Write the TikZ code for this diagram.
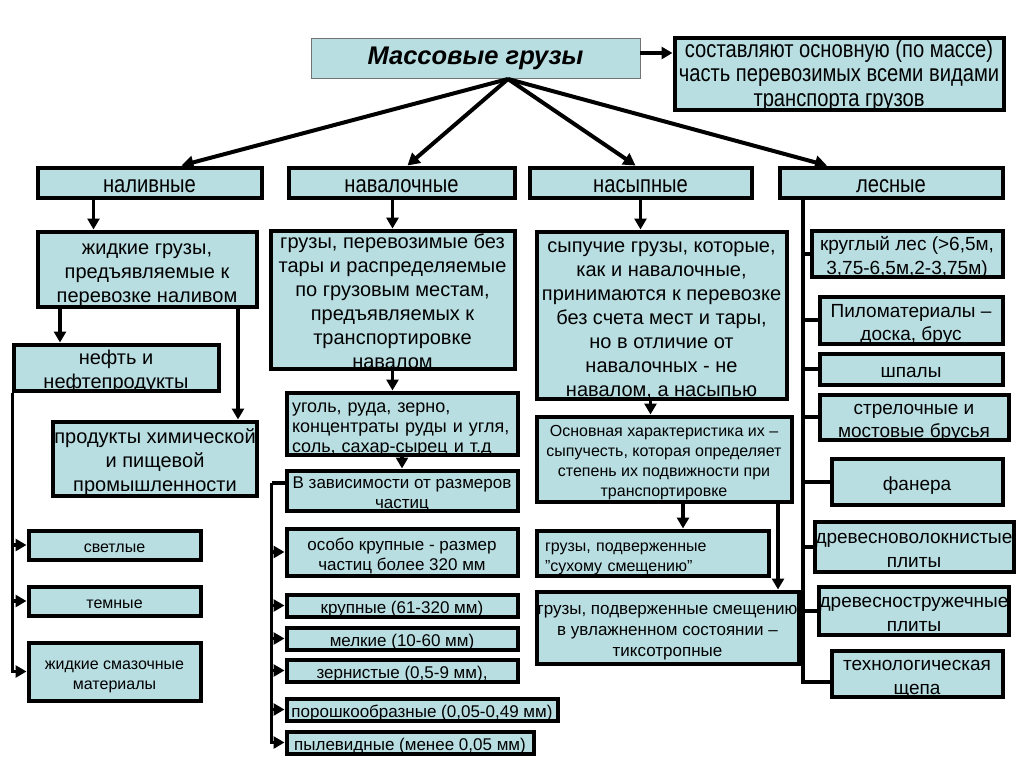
\documentclass[tikz,border=0pt]{standalone}
\usepackage{fontspec}
\setmainfont{Liberation Sans}
\newfontfamily\narrowfont[FakeStretch=0.84]{Liberation Sans}
\usetikzlibrary{arrows.meta}
\definecolor{cargofill}{RGB}{184,222,226}
\def\cargodrop{4}
\tikzset{
    drop/.code={\def\cargodrop{#1}},
    % centred lines: the baseline is the last line
    rows/.code={%
        \pgfmathsetmacro\rowheight{(#1-1)*\cargoskip+0.73*\cargosize+\cargodrop}%
        \pgfmathsetmacro\rowdepth{0.21*\cargosize-\cargodrop}%
        \edef\rowkeys{\noexpand\tikzset{text height=\rowheight pt, text depth=\rowdepth pt}}%
        \rowkeys
    },
    % text width lines: the baseline is the first line
    rowstop/.code={%
        \pgfmathsetmacro\rowheight{0.73*\cargosize+\cargodrop}%
        \pgfmathsetmacro\rowdepth{(#1-1)*\cargoskip+0.21*\cargosize-\cargodrop}%
        \edef\rowkeys{\noexpand\tikzset{text height=\rowheight pt, text depth=\rowdepth pt}}%
        \rowkeys
    },
    ctype/.style 2 args={font=\fontsize{#1}{#2}\selectfont,
        /utils/exec={\def\cargosize{#1}\def\cargoskip{#2}}, rows=1},
    cargo/.style={draw=black, line width=4pt, fill=cargofill, align=center,
        inner xsep=1pt, inner ysep=0pt, ctype={20}{24}},
    cargomid/.style={cargo, ctype={17}{20}},
    cargosmall/.style={cargo, ctype={16}{20}},
    forest/.style={cargo, ctype={19}{23.5}},
    kind/.style={cargo, ctype={24}{24}, font=\narrowfont\fontsize{24}{24}\selectfont},
    title/.style={draw=black!55, line width=0.8pt, fill=cargofill,
        font=\fontsize{25.5}{28}\selectfont\bfseries\itshape},
    wh/.style 2 args={minimum width=#1pt, minimum height=#2pt},
    arr/.style={line width=3.5pt, -{Triangle[length=11pt,width=12pt]}},
    fan/.style={line width=4pt, -{Triangle[length=12pt,width=13pt]}},
    link/.style={line width=4pt},
}
\begin{document}
\begin{tikzpicture}[x=1pt,y=-1pt]
\useasboundingbox[fill=white] (0,0) rectangle (1024,768);

% top
\node[title, wh={329}{40}] (mass) at (475.5,58) {Массовые грузы};
\node[kind, wh={329}{70}, ctype={24}{24.5}, font=\narrowfont\fontsize{24}{24.5}\selectfont, drop=1.5, rows=3] (note) at (839,74)
    {составляют основную (по массе)\\часть перевозимых всеми видами\\транспорта грузов};
\draw[arr] ([yshift=5pt]mass.east) -- ([yshift=5pt]mass.east -| note.west);
\coordinate (hub) at (508,79);

% kinds of cargo
\node[kind, wh={224}{30}] (naliv) at (149.5,182.5) {наливные};
\node[kind, wh={226}{30}] (naval) at (401.5,182.5) {навалочные};
\node[kind, wh={222}{30}] (nasyp) at (640.5,182.5) {насыпные};
\node[kind, wh={223}{30}] (les) at (891,182.5) {лесные};
\foreach \n/\s in {naliv/32, naval/6, nasyp/-5, les/-64}
{
    \draw[fan] (hub) -- ([xshift=\s pt]\n.north);
}

% naliv
\node[cargo, wh={219}{75}, rows=3] (liq) at (147,269) {жидкие грузы,\\предъявляемые к\\перевозке наливом};
\node[cargo, wh={205}{46}, rows=2] (oil) at (116,367.5) {нефть и\\нефтепродукты};
\node[cargo, wh={203}{74}, rows=3] (chem) at (155,458.5) {продукты химической\\и пищевой\\промышленности};
\node[cargosmall, wh={172}{29}] (light) at (114.5,545) {светлые};
\node[cargosmall, wh={172}{29}] (dark) at (114.5,601) {темные};
\node[cargosmall, wh={172}{58}, rows=2] (lub) at (114.5,671.5) {жидкие смазочные\\материалы};
\draw[arr] ([xshift=-56pt]naliv.south) -- ([xshift=-56pt]naliv.south |- liq.north);
\draw[arr] ([xshift=-87pt]liq.south) -- ([xshift=-87pt]liq.south |- oil.north);
\draw[arr] ([xshift=91pt]liq.south) -- ([xshift=91pt]liq.south |- chem.north);
\coordinate (lspine) at ([xshift=1pt]oil.south west);
\foreach \n in {light,dark,lub}
{
    \draw[arr] (lspine) |- (\n.west);
}

% naval
\node[cargo, wh={244}{137}, drop=3, rows=6] (bulk) at (392.5,300) {грузы, перевозимые без\\тары и распределяемые\\по грузовым местам,\\предъявляемых к\\транспортировке\\навалом};
\node[cargomid, ctype={18}{20}, wh={231}{62}, text width=220pt, align=left, rowstop=3] (coal) at (402,423.5) {уголь, руда, зерно,\\концентраты руды и угля,\\соль, сахар-сырец и т.д};
\node[cargomid, wh={231}{40}, rows=2] (size) at (402,490.5) {В зависимости от размеров\\частиц};
\node[cargomid, wh={231}{47}, rows=2] (xlarge) at (402,552) {особо крупные - размер\\частиц более 320 мм};
\node[cargomid, wh={231}{22}] (large) at (402,605.5) {крупные (61-320 мм)};
\node[cargomid, wh={231}{22}] (small) at (402,638.5) {мелкие (10-60 мм)};
\node[cargomid, wh={231}{22}] (grain) at (402,670.5) {зернистые (0,5-9 мм),};
\node[cargomid, wh={271}{22}] (powder) at (422,709.5) {порошкообразные (0,05-0,49 мм)};
\node[cargomid, wh={247}{22}] (dust) at (410,742.5) {пылевидные (менее 0,05 мм)};
\draw[arr] ([xshift=-9pt]naval.south) -- ([xshift=-9pt]naval.south |- bulk.north);
\draw[arr] (bulk.south) -- (bulk.south |- coal.north);
\draw[arr] (coal.south) -- (coal.south |- size.north);
\coordinate (mspine) at ([xshift=-13pt,yshift=8pt]size.west);
\draw[link] ([yshift=8pt]size.west) -- (mspine);
\foreach \n in {xlarge,large,small,grain,powder,dust}
{
    \draw[arr] (mspine) |- (\n.west);
}

% nasyp
\node[cargo, wh={250}{167}, rows=7] (loose) at (661.5,315) {сыпучие грузы, которые,\\как и навалочные,\\принимаются к перевозке\\без счета мест и тары,\\но в отличие от\\навалочных - не\\навалом, а насыпью};
\node[cargosmall, wh={255}{85}, rows=4] (flow) at (664,459) {Основная характеристика их –\\сыпучесть, которая определяет\\степень их подвижности при\\транспортировке};
\node[cargosmall, wh={232}{45}, text width=215pt, align=left, rowstop=2] (dry) at (652.5,553) {грузы, подверженные\\ \symbol{34}сухому смещению\symbol{34}};
\node[cargomid, wh={262}{72}, ctype={17}{21}, rows=3] (wet) at (667.5,627.5) {грузы, подверженные смещению\\в увлажненном состоянии –\\тиксотропные};
\draw[arr] (nasyp.south) -- (nasyp.south |- loose.north);
\draw[arr] ([xshift=-11pt]loose.south) -- ([xshift=-11pt]loose.south |- flow.north);
\draw[arr] ([xshift=19pt]flow.south) -- ([xshift=19pt]flow.south |- dry.north);
\draw[arr] ([xshift=114pt]flow.south) -- ([xshift=114pt]flow.south |- wet.north);

% les
\node[forest, wh={191}{46}, rows=2] (round) at (907,253.5) {круглый лес (>6,5м,\\3,75-6,5м,2-3,75м)};
\node[forest, wh={183}{47}, rows=2] (saw) at (911,320) {Пиломатериалы –\\доска, брус};
\node[forest, wh={183}{31}] (sleep) at (911,369) {шпалы};
\node[forest, wh={189}{45}, rows=2] (switch) at (914,417) {стрелочные и\\мостовые брусья};
\node[forest, wh={171}{46}] (plywood) at (917,481.5) {фанера};
\node[forest, wh={189}{50}, rows=2] (fiber) at (914,546.5) {древесноволокнистые\\плиты};
\node[forest, wh={189}{48}, rows=2] (chip) at (914,610.5) {древесностружечные\\плиты};
\node[forest, wh={171}{46}, rows=2] (tech) at (917,673.5) {технологическая\\щепа};
\coordinate (rspine) at ([xshift=-88pt]les.south);
\foreach \n in {round,saw,sleep,switch,plywood,fiber,chip}
{
    \draw[link] (rspine) |- (\n.west);
}
\draw[link] (rspine) |- ([yshift=-8pt]tech.west);

\end{tikzpicture}
\end{document}
